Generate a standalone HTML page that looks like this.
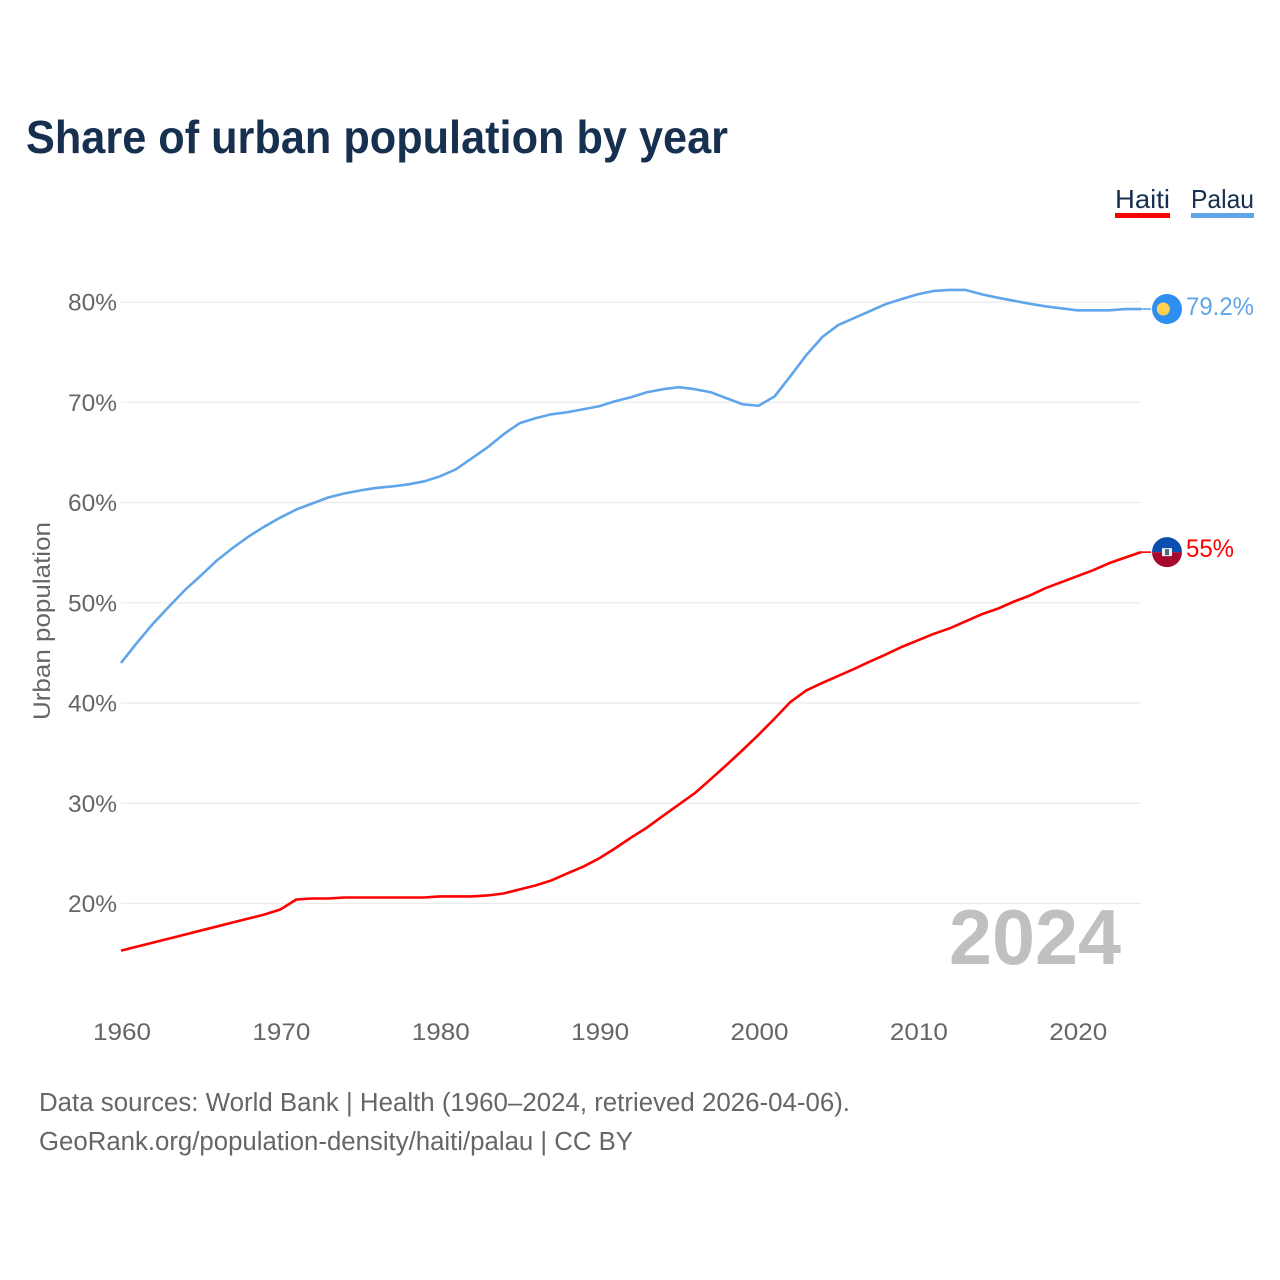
<!DOCTYPE html>
<html lang="en">
<head>
<meta charset="utf-8">
<title>Share of urban population by year</title>
<style>
html,body{margin:0;padding:0;background:#fff;}
svg{display:block;font-family:"Liberation Sans",sans-serif;}
</style>
</head>
<body>
<svg id="chart" width="1280" height="1280" viewBox="0 0 1280 1280" xmlns="http://www.w3.org/2000/svg">
  <rect width="1280" height="1280" fill="#ffffff"/>
  <text x="26" y="153" font-size="46" font-weight="700" fill="#18304f" textLength="702" lengthAdjust="spacingAndGlyphs">Share of urban population by year</text>

  <g>
    <text x="1115" y="208" font-size="26" fill="#18304f" textLength="55" lengthAdjust="spacingAndGlyphs">Haiti</text>
    <rect x="1115" y="213" width="55" height="5" fill="#ff0000"/>
  </g>
  <g>
    <text x="1191" y="208" font-size="26" fill="#18304f" textLength="63" lengthAdjust="spacingAndGlyphs">Palau</text>
    <rect x="1191" y="213" width="63" height="5" fill="#60a5ea"/>
  </g>

  <g id="grid"></g>
  <g id="yticks"></g>
  <g id="xticks"></g>

  <text transform="translate(50,720) rotate(-90)" font-size="24" fill="#666666" textLength="198" lengthAdjust="spacingAndGlyphs">Urban population</text>

  <text x="949" y="964" font-size="78" font-weight="700" fill="#c0c0c0" textLength="172" lengthAdjust="spacingAndGlyphs">2024</text>

  <g id="series"></g>
  <g id="ends"></g>

  <text x="39" y="1111" font-size="25.5" fill="#666666" textLength="811" lengthAdjust="spacingAndGlyphs">Data sources: World Bank | Health (1960–2024, retrieved 2026-04-06).</text>
  <text x="39" y="1150" font-size="25.5" fill="#666666" textLength="594" lengthAdjust="spacingAndGlyphs">GeoRank.org/population-density/haiti/palau | CC BY</text>
</svg>
<script>
const years = [1960,1961,1962,1963,1964,1965,1966,1967,1968,1969,1970,1971,1972,1973,1974,1975,1976,1977,1978,1979,1980,1981,1982,1983,1984,1985,1986,1987,1988,1989,1990,1991,1992,1993,1994,1995,1996,1997,1998,1999,2000,2001,2002,2003,2004,2005,2006,2007,2008,2009,2010,2011,2012,2013,2014,2015,2016,2017,2018,2019,2020,2021,2022,2023,2024];
const palauValues = [44.0,46.0,47.9,49.6,51.25,52.7,54.2,55.45,56.6,57.6,58.5,59.3,59.9,60.5,60.9,61.2,61.45,61.6,61.8,62.1,62.6,63.3,64.4,65.5,66.8,67.9,68.4,68.8,69.0,69.3,69.6,70.1,70.5,71.0,71.3,71.5,71.3,71.0,70.4,69.8,69.65,70.57,72.6,74.7,76.5,77.7,78.4,79.1,79.8,80.3,80.77,81.1,81.2,81.2,80.77,80.43,80.13,79.83,79.57,79.37,79.17,79.17,79.17,79.3,79.3];
const haitiValues = [15.3,15.7,16.1,16.5,16.9,17.3,17.7,18.1,18.5,18.9,19.4,20.4,20.5,20.5,20.6,20.6,20.6,20.6,20.6,20.6,20.7,20.7,20.7,20.8,21.0,21.4,21.8,22.3,23.0,23.67,24.5,25.5,26.57,27.57,28.73,29.87,31.0,32.4,33.83,35.3,36.83,38.43,40.1,41.25,42.0,42.7,43.4,44.15,44.85,45.6,46.25,46.9,47.45,48.15,48.85,49.4,50.1,50.7,51.45,52.05,52.65,53.25,53.95,54.5,55.05];
const yTicks = [20,30,40,50,60,70,80];
const xTicks = [1960,1970,1980,1990,2000,2010,2020];
const palauLabel = "79.2%";
const haitiLabel = "55%";

const NS = "http://www.w3.org/2000/svg";
function xScale(year){ return 121 + (year - 1960) * (1020 / 64); }
function yScale(v){ return 903.5 - (v - 20) * 10.025; }
function make(tag, attrs, parent){
  const el = document.createElementNS(NS, tag);
  for (const k in attrs) el.setAttribute(k, attrs[k]);
  parent.appendChild(el);
  return el;
}

const gridG = document.getElementById('grid');
const yG = document.getElementById('yticks');
const xG = document.getElementById('xticks');
const seriesG = document.getElementById('series');
const endsG = document.getElementById('ends');

yTicks.forEach(function(t){
  const line = make('line', {x1:121, x2:1141, y1:yScale(t), y2:yScale(t), stroke:'#ebebeb', 'stroke-width':1.3}, gridG);
  
  
  const label = make('text', {x:117, y:yScale(t)+8.5, 'text-anchor':'end', 'font-size':24, fill:'#666666', textLength:49, lengthAdjust:'spacingAndGlyphs'}, yG);
  
  
  label.textContent = t + '%';
});

xTicks.forEach(function(t){
  const label = make('text', {x:xScale(t)+1, y:1040, 'text-anchor':'middle', 'font-size':24, fill:'#666666', textLength:58, lengthAdjust:'spacingAndGlyphs'}, xG);
  
  
  label.textContent = t;
});

function linePoints(values){
  return values.map(function(v,i){ return xScale(years[i]).toFixed(2) + ',' + yScale(v).toFixed(2); }).join(' ');
}

const palauLine = make('polyline', {points:linePoints(palauValues), fill:'none', stroke:'#60a5ea', 'stroke-width':2.6, 'stroke-linejoin':'round'}, seriesG);



const haitiLine = make('polyline', {points:linePoints(haitiValues), fill:'none', stroke:'#ff0000', 'stroke-width':2.6, 'stroke-linejoin':'round'}, seriesG);



/* Palau end marker */
const palauLast = palauValues[palauValues.length-1];
const palauY = yScale(palauLast);
const palauX = xScale(years[years.length-1]);
const palauConn = make('line', {x1:palauX, x2:palauX+10, y1:palauY, y2:palauY, stroke:'#60a5ea', 'stroke-width':1.6}, endsG);


const palauFlag = make('g', {transform:'translate(1167,' + palauY + ')'}, endsG);


make('circle', {cx:0, cy:0, r:15, fill:'#2f8ff0'}, palauFlag);
make('circle', {cx:-3.7, cy:0, r:6.5, fill:'#ffd34d'}, palauFlag);
const palauText = make('text', {x:1186, y:palauY+6, 'font-size':25, fill:'#60a5ea', textLength:68, lengthAdjust:'spacingAndGlyphs'}, endsG);


palauText.textContent = palauLabel;

/* Haiti end marker */
const haitiLast = haitiValues[haitiValues.length-1];
const haitiY = yScale(haitiLast);
const haitiX = xScale(years[years.length-1]);
const haitiConn = make('line', {x1:haitiX, x2:haitiX+10, y1:haitiY, y2:haitiY, stroke:'#ff0000', 'stroke-width':1.6}, endsG);


const haitiFlag = make('g', {transform:'translate(1167,' + haitiY + ')'}, endsG);


make('path', {d:'M-15 0A15 15 0 0 1 15 0Z', fill:'#0a4fb0'}, haitiFlag);
make('path', {d:'M-15 0A15 15 0 0 0 15 0Z', fill:'#a50a2d'}, haitiFlag);
make('rect', {x:-5, y:-4, width:10, height:8, fill:'#eef0f2'}, haitiFlag);
make('rect', {x:-2, y:-3, width:4, height:6, fill:'#4a6a80'}, haitiFlag);
const haitiText = make('text', {x:1186, y:haitiY+5, 'font-size':25, fill:'#ff0000', textLength:48, lengthAdjust:'spacingAndGlyphs'}, endsG);


haitiText.textContent = haitiLabel;
</script>
</body>
</html>
